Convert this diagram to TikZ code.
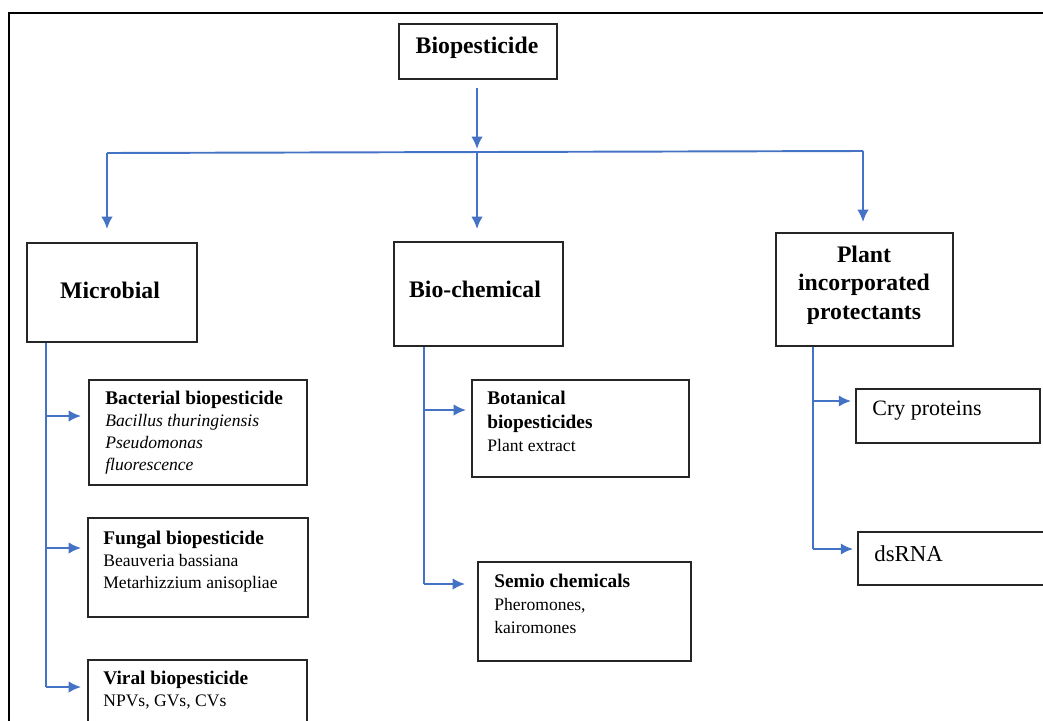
\documentclass[tikz,border=0pt]{standalone}
\usepackage{fontspec}
\setmainfont{Liberation Serif}
\usetikzlibrary{arrows.meta,calc,fit}

\definecolor{linkblue}{RGB}{68,114,196}

\tikzset{
    box/.style={draw=black!85, line width=1.1pt, inner sep=0pt},
    head/.style={font=\fontsize{13.5}{16}\selectfont\bfseries, align=center, inner sep=0pt},
    leaf/.style={anchor=north west, align=left, inner sep=0pt, font=\fontsize{10}{12.5}\selectfont},
    line/.style={draw=linkblue, line width=1.1pt},
    link/.style={line, -{Latex[length=7pt,width=6.5pt]}},
}

\begin{document}
\begin{tikzpicture}[x=0.02cm, y=-0.02cm]
    \useasboundingbox (0,0) rectangle (1043,720);
    \clip (0,0) rectangle (1043,720);

    % outer frame (runs off the page)
    \draw[line width=1.6pt] (9,13) rectangle (1080,760);

    % boxes
    \node[box, fit={(399,24) (557,79)}] (bio) {};
    \node[box, fit={(27,243) (197,342)}] (mic) {};
    \node[box, fit={(394,242) (563,346)}] (bch) {};
    \node[box, fit={(776,233) (953,346)}] (pip) {};
    \node[box, fit={(89,380) (307,485)}] (bac) {};
    \node[box, fit={(88,518) (308,617)}] (fun) {};
    \node[box, fit={(88,660) (307,760)}] (vir) {};
    \node[box, fit={(472,380) (689,477)}] (bot) {};
    \node[box, fit={(478,562) (691,661)}] (sem) {};
    \node[box, fit={(856,389) (1040,443)}] (cry) {};
    \node[box, fit={(858,532) (1080,585)}] (dsr) {};

    % headings
    \node[head, anchor=base] (bioT) at (477,53) {Biopesticide};
    \node[head, anchor=base] (micT) at (110,298) {Microbial};
    \node[head, anchor=base] (bchT) at (475,297) {Bio-chemical};
    \node[head, anchor=north] (pipT) at (864,246) {Plant\\incorporated\\protectants};

    % leaf texts
    \node[leaf] (bacT) at (105,391) {{\bfseries\fontsize{11}{12.5}\selectfont Bacterial biopesticide}\\
        \textit{Bacillus thuringiensis}\\ \textit{Pseudomonas}\\ \textit{fluorescence}};
    \node[leaf] (funT) at (103,531) {{\bfseries\fontsize{11}{12.5}\selectfont Fungal biopesticide}\\
        Beauveria bassiana\\ Metarhizzium anisopliae};
    \node[leaf] (virT) at (103,671) {{\bfseries\fontsize{11}{12.5}\selectfont Viral biopesticide}\\
        NPVs, GVs, CVs};
    \node[leaf, font=\fontsize{10}{13.3}\selectfont] (botT) at (487,391)
        {{\bfseries\fontsize{11}{13.3}\selectfont Botanical}\\ {\bfseries\fontsize{11}{13.3}\selectfont biopesticides}\\ Plant extract};
    \node[leaf, font=\fontsize{10}{13}\selectfont] (semT) at (494,574)
        {{\bfseries\fontsize{11}{13}\selectfont Semio chemicals}\\ Pheromones,\\ kairomones};
    \node[leaf, font=\fontsize{12.5}{15}\selectfont] (cryT) at (872,401) {Cry proteins};
    \node[leaf, font=\fontsize{13}{15}\selectfont] (dsrT) at (874,545) {dsRNA};

    % top level split
    \coordinate (hub) at (477,153);
    \coordinate (hubL) at (107,153);
    \coordinate (hubR) at (863,151);
    \draw[link] ($(hub |- bio.south)+(0,8)$) -- ($(hub)+(0,-4)$);
    \draw[line] (hubL) -- (hubR);
    \draw[link] (hubL) -- ($(hubL |- mic.north)+(0,-13)$);
    \draw[link] (hub) -- ($(hub |- bch.north)+(0,-12)$);
    \draw[link] (hubR) -- ($(hubR |- pip.north)+(0,-10)$);

    % microbial branch
    \coordinate (m1) at (46,416);
    \coordinate (m2) at (46,548);
    \coordinate (m3) at (46,687);
    \draw[line] (m1 |- mic.south) -- (m3);
    \draw[link] (m1) -- ($(bac.west |- m1)+(-7,0)$);
    \draw[link] (m2) -- ($(fun.west |- m2)+(-6,0)$);
    \draw[link] (m3) -- ($(vir.west |- m3)+(-6,0)$);

    % bio-chemical branch
    \coordinate (b1) at (424,410);
    \coordinate (b2) at (424,584);
    \draw[line] (b1 |- bch.south) -- (b2);
    \draw[link] (b1) -- ($(bot.west |- b1)+(-5,0)$);
    \draw[link] (b2) -- ($(sem.west |- b2)+(-12,0)$);

    % plant incorporated branch
    \coordinate (p1) at (813,401);
    \coordinate (p2) at (813,549);
    \draw[line] (p1 |- pip.south) -- (p2);
    \draw[link] (p1) -- ($(cry.west |- p1)+(-4,0)$);
    \draw[link] (p2) -- ($(dsr.west |- p2)+(-4,0)$);
\end{tikzpicture}
\end{document}
